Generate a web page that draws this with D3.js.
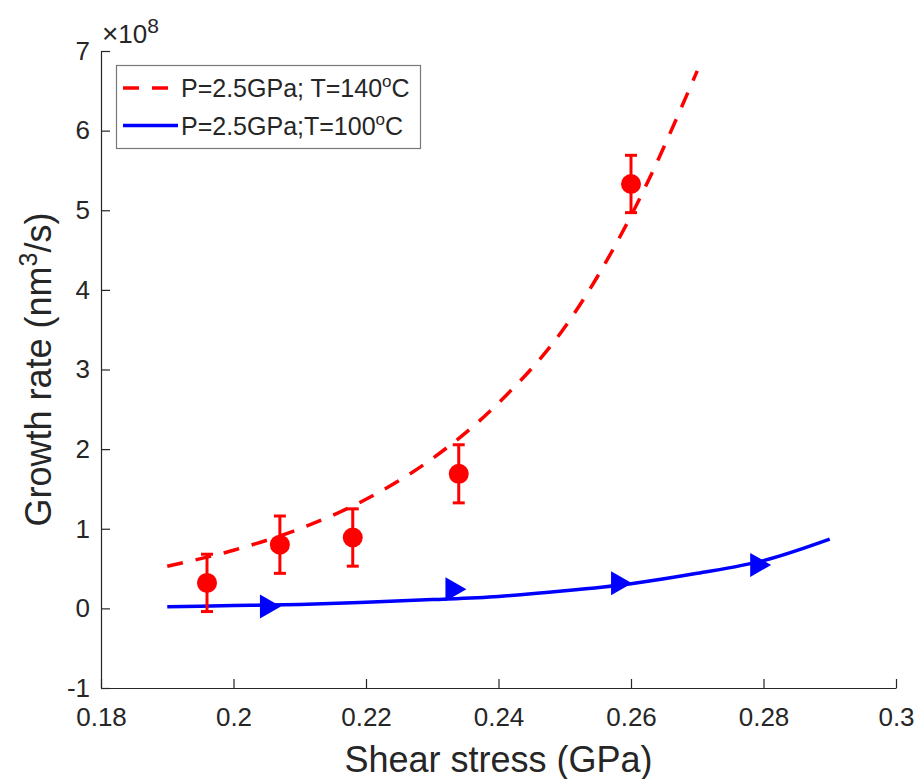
<!DOCTYPE html>
<html>
<head>
<meta charset="utf-8">
<script src="https://cdn.jsdelivr.net/npm/d3@7"></script>
<style>
    body { margin: 0; background: #fff; }
    text { font-family: "Liberation Sans", Arial, Helvetica, sans-serif; fill: #262626; }
</style>
</head>
<body>
<div id="chart"></div>
<script>
// measured data, growth rate in units of 1e8 nm^3/s
const redX = [0.196, 0.207, 0.218, 0.234, 0.260];
const redY = [0.32, 0.80, 0.89, 1.69, 5.33];
const redErr = [0.36, 0.36, 0.36, 0.365, 0.36];

const blueX = [0.2055, 0.2335, 0.2585, 0.2795];
const blueY = [0.025, 0.24, 0.315, 0.545];

// fitted curves
const redFitX = [0.19, 0.20, 0.21, 0.22, 0.23, 0.24, 0.25, 0.26, 0.27];
const redFitY = [0.53, 0.73, 1.00, 1.37, 1.88, 2.58, 3.53, 4.93, 6.75];
const blueFitX = [0.19, 0.20, 0.21, 0.22, 0.23, 0.24, 0.25, 0.26, 0.27, 0.28, 0.29];
const blueFitY = [0.02, 0.035, 0.05, 0.077, 0.11, 0.15, 0.22, 0.31, 0.44, 0.60, 0.87];

const xTicks = [0.18, 0.2, 0.22, 0.24, 0.26, 0.28, 0.3];
const yTicks = [-1, 0, 1, 2, 3, 4, 5, 6, 7];
const legendLabels = [
    { text: 'P=2.5GPa; T=140', unit: 'C', color: '#ff0000', dash: '16,13' },
    { text: 'P=2.5GPa;T=100', unit: 'C', color: '#0000ff', dash: null }
];

const width = 918;
const height = 779;
const margin = { top: 51, right: 22, bottom: 91, left: 101 };
const axisColor = '#262626';

const svg = d3.select('#chart').append('svg')
    .attr('width', width)
    .attr('height', height);

const x = d3.scaleLinear().domain([0.18, 0.3]).range([margin.left, width - margin.right]);
const y = d3.scaleLinear().domain([-1, 7]).range([height - margin.bottom, margin.top]);

const fmt = d => String(+d.toFixed(2));

// axes, MATLAB style ticks pointing inward
const xAxis = svg.append('g')
    .attr('transform', 'translate(0,' + y(-1) + ')')
    .call(d3.axisBottom(x).tickValues(xTicks).tickFormat(fmt).tickSizeInner(-9).tickSizeOuter(0).tickPadding(20));
const yAxis = svg.append('g')
    .attr('transform', 'translate(' + x(0.18) + ',0)')
    .call(d3.axisLeft(y).tickValues(yTicks).tickFormat(fmt).tickSizeInner(-9).tickSizeOuter(0).tickPadding(11));

[xAxis, yAxis].forEach(g => {
    g.select('.domain').attr('stroke', axisColor).attr('stroke-width', 1.2);
    g.selectAll('.tick line').attr('stroke', axisColor).attr('stroke-width', 1.2);
    g.selectAll('.tick text').style('font-size', '26px').attr('fill', axisColor);
});

// x10^8 exponent
const expo = svg.append('text')
    .attr('x', 102)
    .attr('y', 43)
    .style('font-size', '26px');
expo.append('tspan').style('font-size', '28px').text('\u00d7');
expo.append('tspan').text('10');
expo.append('tspan').attr('dy', -10).style('font-size', '21px').text('8');

// axis labels
svg.append('text')
    .attr('x', (x(0.18) + x(0.3)) / 2)
    .attr('y', 772)
    .attr('text-anchor', 'middle')
    .style('font-size', '36px')
    .text('Shear stress (GPa)');

const yLab = svg.append('text')
    .attr('transform', 'translate(51,' + (y(-1) + y(7)) / 2 + ') rotate(-90)')
    .attr('text-anchor', 'middle')
    .style('font-size', '36px');
yLab.append('tspan').text('Growth rate (nm');
yLab.append('tspan').attr('dy', -14).style('font-size', '25px').text('3');
yLab.append('tspan').attr('dy', 14).text('/s)');

// fit curves
const line = d3.line()
    .x(d => x(d[0]))
    .y(d => y(d[1]))
    .curve(d3.curveMonotoneX);

svg.append('path')
    .datum(redFitX.map((v, i) => [v, redFitY[i]]))
    .attr('d', line)
    .attr('fill', 'none')
    .attr('stroke', '#ff0000')
    .attr('stroke-width', 3.5)
    .attr('stroke-dasharray', '16,13');

svg.append('path')
    .datum(blueFitX.map((v, i) => [v, blueFitY[i]]))
    .attr('d', line)
    .attr('fill', 'none')
    .attr('stroke', '#0000ff')
    .attr('stroke-width', 3.5);

// red error bars and dots
const red = svg.append('g').attr('stroke', '#ff0000').attr('stroke-width', 3);
redX.forEach((v, i) => {
    const cx = x(v);
    const top = y(redY[i] + redErr[i]);
    const bot = y(redY[i] - redErr[i]);
    red.append('line').attr('x1', cx).attr('x2', cx).attr('y1', top).attr('y2', bot);
    red.append('line').attr('x1', cx - 6).attr('x2', cx + 6).attr('y1', top).attr('y2', top);
    red.append('line').attr('x1', cx - 6).attr('x2', cx + 6).attr('y1', bot).attr('y2', bot);
    svg.append('circle')
        .attr('cx', cx)
        .attr('cy', y(redY[i]))
        .attr('r', 10)
        .attr('fill', '#ff0000');
});

// blue right-pointing triangles
svg.append('g').selectAll('path')
    .data(blueX.map((v, i) => [v, blueY[i]]))
    .join('path')
    .attr('d', d => {
        const cx = x(d[0]);
        const cy = y(d[1]);
        return 'M' + (cx - 10) + ',' + (cy - 12) + 'L' + (cx + 11) + ',' + cy + 'L' + (cx - 10) + ',' + (cy + 12) + 'Z';
    })
    .attr('fill', '#0000ff');

// legend
const legend = svg.append('g');
legend.append('rect')
    .attr('x', 116.5)
    .attr('y', 65.5)
    .attr('width', 304)
    .attr('height', 83)
    .attr('fill', '#fff')
    .attr('stroke', '#777')
    .attr('stroke-width', 1.2);

legendLabels.forEach((l, i) => {
    const ly = 88 + i * 37.5;
    legend.append('line')
        .attr('x1', 123)
        .attr('x2', 178)
        .attr('y1', ly)
        .attr('y2', ly)
        .attr('stroke', l.color)
        .attr('stroke-width', 3.5)
        .attr('stroke-dasharray', l.dash);
    const t = legend.append('text')
        .attr('x', 181)
        .attr('y', ly + 9)
        .style('font-size', '25px');
    t.append('tspan').text(l.text);
    t.append('tspan').attr('dy', -10).style('font-size', '17px').text('o');
    t.append('tspan').attr('dy', 10).text(l.unit);
});
</script>
</body>
</html>
